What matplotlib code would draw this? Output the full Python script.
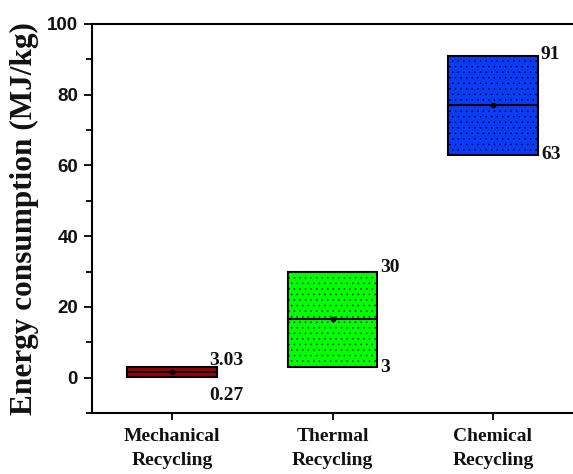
import matplotlib
matplotlib.use("Agg")
import matplotlib.pyplot as plt
from matplotlib.ticker import MultipleLocator

# ---- data ----
categories = ["Mechanical\nRecycling", "Thermal\nRecycling", "Chemical\nRecycling"]
low_values = [0.27, 3, 63]
high_values = [3.03, 30, 91]
low_labels = ["0.27", "3", "63"]
high_labels = ["3.03", "30", "91"]
colors = ["#a00000", "#00ff00", "#0a3cf5"]

# ---- style / placement ----
box_width = 0.56
label_dx = [0.23, 0.30, 0.30]
high_dy = [1.8, 1.2, 0.3]
low_dy = [-5.4, -0.2, 0.0]

plt.rcParams['hatch.linewidth'] = 0.3
plt.rcParams['hatch.color'] = 'black'

fig = plt.figure(figsize=(5.73, 4.74), dpi=100)
ax = fig.add_axes([92/573, 1-413/474, 1-92/573, (413-24)/474])

positions = list(range(1, len(categories) + 1))
for p, lo, hi, c in zip(positions, low_values, high_values, colors):
    ax.bar(p, hi - lo, bottom=lo, width=box_width, color=c, edgecolor='black',
           linewidth=1.5, hatch='...', zorder=2)
    mean = (lo + hi) / 2
    ax.plot([p - box_width/2, p + box_width/2], [mean, mean], color='black', lw=1.5, zorder=3)
    ax.plot([p], [mean], marker='o', ms=3, color='black', zorder=4)

serif = ['Liberation Serif', 'DejaVu Serif']
for p, lo, hi, ll, hl, dx, hdy, ldy in zip(positions, low_values, high_values, low_labels,
                                          high_labels, label_dx, high_dy, low_dy):
    ax.text(p + dx, hi + hdy, hl, family=serif, fontweight='bold', fontsize=14,
            ha='left', va='center', color='#111111')
    ax.text(p + dx, lo + ldy, ll, family=serif, fontweight='bold', fontsize=14,
            ha='left', va='center', color='#111111')

ax.set_xlim(0.5, 3.5)
ax.set_ylim(-10, 100)
ax.set_xticks(positions)
ax.set_xticklabels(categories, family=serif, fontweight='bold', fontsize=14,
                   linespacing=1.55, color='#111111')
ax.yaxis.set_major_locator(MultipleLocator(20))
ax.yaxis.set_minor_locator(MultipleLocator(10))
ax.set_yticks([0, 20, 40, 60, 80, 100])
for lab in ax.get_yticklabels():
    lab.set_family(['Liberation Sans', 'DejaVu Sans'])
    lab.set_fontweight('bold')
    lab.set_fontsize(13.5)
    lab.set_color('#111111')
ax.tick_params(axis='y', which='major', direction='out', length=6, width=1.3, pad=4)
ax.tick_params(axis='y', which='minor', direction='out', length=4, width=1.3)
ax.tick_params(axis='x', which='major', direction='out', length=5, width=1.3, pad=6)
ax.set_ylabel("Energy consumption (MJ/kg)", family=serif, fontweight='bold',
              fontsize=22.5, color='#111111', labelpad=6)
ax.spines['right'].set_visible(False)
for s in ['left', 'top', 'bottom']:
    ax.spines[s].set_linewidth(1.5)

fig.savefig("out.png", dpi=100)
